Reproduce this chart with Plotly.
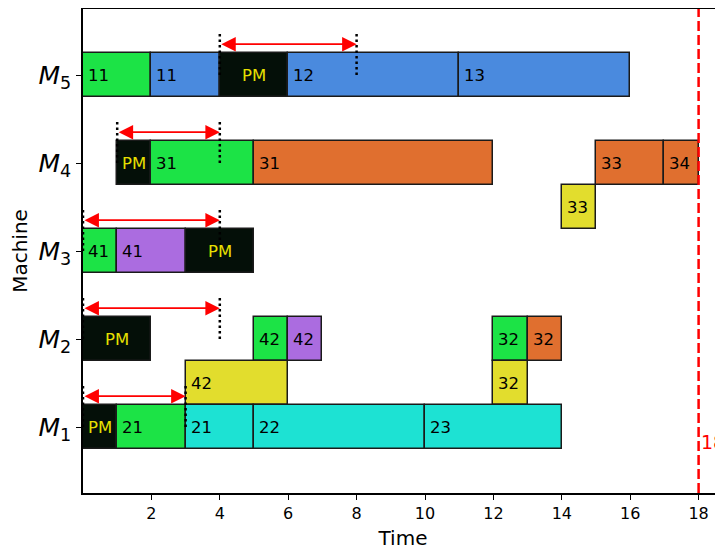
import plotly.graph_objects as go

# ---------------- data ----------------
row_values = [1, 2, 3, 4, 5]
row_tick_labels = ["<i>M</i><sub>1</sub>", "<i>M</i><sub>2</sub>", "<i>M</i><sub>3</sub>",
                   "<i>M</i><sub>4</sub>", "<i>M</i><sub>5</sub>"]
x_tick_values = [2, 4, 6, 8, 10, 12, 14, 16, 18]

task_labels = ["11", "11", "PM", "12", "13",
               "PM", "31", "31", "33", "34",
               "33",
               "41", "41", "PM",
               "PM", "42", "42", "32", "32",
               "42", "32",
               "PM", "21", "21", "22", "23"]
task_start = [0, 2, 4, 6, 11,
              1, 2, 5, 15, 17,
              14,
              0, 1, 3,
              0, 5, 6, 12, 13,
              3, 12,
              0, 1, 3, 5, 10]
task_end = [2, 4, 6, 11, 16,
            2, 5, 12, 17, 18,
            15,
            1, 3, 5,
            2, 6, 7, 13, 14,
            6, 13,
            1, 3, 5, 10, 14]
task_row = [5, 5, 5, 5, 5,
            4, 4, 4, 4, 4,
            3.5,
            3, 3, 3,
            2, 2, 2, 2, 2,
            1.5, 1.5,
            1, 1, 1, 1, 1]
task_kind = ["green", "blue", "pm", "blue", "blue",
             "pm", "green", "orange", "orange", "orange",
             "yellow",
             "green", "purple", "pm",
             "pm", "green", "purple", "green", "orange",
             "yellow", "yellow",
             "pm", "green", "cyan", "cyan", "cyan"]

pm_window_row = [5, 4, 3, 2, 1]
pm_window_start = [4, 1, 0, 0, 0]
pm_window_end = [8, 4, 4, 4, 3]

makespan = 18

# ---------------- styles ----------------
palette = {
    "green": "#1ce346",
    "blue": "#4a8ade",
    "pm": "#040f08",
    "orange": "#e06f2f",
    "purple": "#ab6ce0",
    "yellow": "#e2dd2d",
    "cyan": "#1de2d3",
}
FONT = "DejaVu Sans"

fig = go.Figure()

fig.add_trace(go.Bar(
    orientation="h",
    y=task_row,
    x=[e - s for s, e in zip(task_start, task_end)],
    base=task_start,
    width=0.5,
    marker=dict(color=[palette[k] for k in task_kind],
                line=dict(color="#1a1a1a", width=1.5)),
    hoverinfo="skip",
    showlegend=False,
))

annotations = []
for lab, s, e, r in zip(task_labels, task_start, task_end, task_row):
    if lab == "PM":
        annotations.append(dict(x=(s + e) / 2, y=r, text=lab, showarrow=False,
                                xanchor="center", yanchor="middle",
                                font=dict(family=FONT, size=16.5, color="#e8e000")))
    else:
        annotations.append(dict(x=s, y=r, text=lab, showarrow=False,
                                xanchor="left", yanchor="middle", xshift=3,
                                font=dict(family=FONT, size=16.5, color="black")))

shapes = []
for r, s, e in zip(pm_window_row, pm_window_start, pm_window_end):
    for xv in (s, e):
        shapes.append(dict(type="line", xref="x", yref="y", x0=xv, x1=xv,
                           y0=r, y1=r + 0.5,
                           line=dict(color="black", width=2.5, dash="2.5px,3px"),
                           layer="above"))
    annotations.append(dict(x=e, y=r + 0.35, ax=s, ay=r + 0.35,
                            xref="x", yref="y", axref="x", ayref="y",
                            text="", showarrow=True, arrowside="end+start",
                            arrowhead=2, startarrowhead=2,
                            arrowsize=1.7, startarrowsize=1.7,
                            arrowwidth=1.7, arrowcolor="red",
                            standoff=0, startstandoff=0))

shapes.append(dict(type="line", xref="x", yref="paper", x0=makespan, x1=makespan,
                   y0=0, y1=1, line=dict(color="red", width=2.5, dash="10px,4px"),
                   layer="above"))
annotations.append(dict(x=makespan, y=0.83, text=str(makespan), showarrow=False,
                        xanchor="left", yanchor="middle", xshift=0,
                        font=dict(family=FONT, size=19, color="red")))

# The page body has an 8px margin, so the figure is 8px smaller and margins shifted
fig.update_layout(
    width=715, height=544,
    margin=dict(l=75, r=0, t=1, b=59),
    paper_bgcolor="white", plot_bgcolor="white",
    font=dict(family=FONT, color="black"),
    shapes=shapes, annotations=annotations,
    bargap=0,
    xaxis=dict(range=[0, 640 / 34.2], tickvals=x_tick_values,
               ticks="outside", ticklen=5, tickwidth=1.2, tickcolor="black",
               showline=True, linecolor="black", linewidth=1.5, mirror=True,
               showgrid=False, zeroline=False,
               tickfont=dict(family=FONT, size=16, color="black"),
               title=dict(text="Time", font=dict(family=FONT, size=20, color="black"),
                          standoff=9)),
    yaxis=dict(range=[0.25, 5.75], tickvals=row_values, ticktext=row_tick_labels,
               ticks="outside", ticklen=5, tickwidth=1.2, tickcolor="black",
               showline=True, linecolor="black", linewidth=1.5,
               showgrid=False, zeroline=False,
               tickfont=dict(family=FONT, size=25, color="black"),
               title=dict(text="Machine", font=dict(family=FONT, size=20, color="black"),
                          standoff=8)),
)

fig.write_html("out.html")
